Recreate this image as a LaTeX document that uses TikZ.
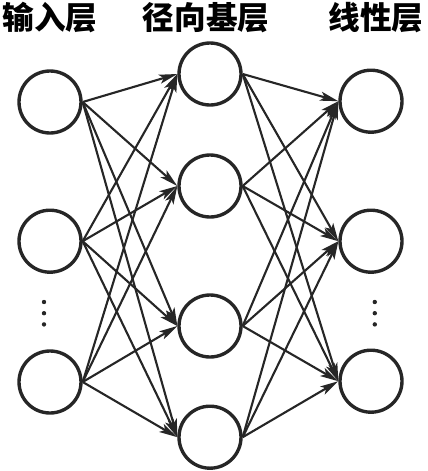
\documentclass[tikz,border=0pt]{standalone}
\usepackage{fontspec}
\newfontfamily\cjk{Noto Sans CJK SC}
\usetikzlibrary{arrows.meta}

\begin{document}
\begin{tikzpicture}[
	neuron/.style={circle, draw=black!85, line width=2.4pt, minimum size=1.55cm, inner sep=0pt},
	link/.style={draw=black!85, line width=1.5pt, -{Stealth[length=13pt, width=6.5pt, inset=3pt]}},
	title/.style={font={\cjk\bfseries\fontsize{22.5pt}{24pt}\selectfont}, inner sep=0pt}
	]
	\useasboundingbox (0,0) rectangle (10.675,-11.775);
	
	\def\xIn{1.25}
	\def\xHid{5.25}
	\def\xOut{9.275}
	\def\yT{-0.45}
	
	% layer titles
	\node[title] (TIn) at (1.25,\yT) {输入层};
	\node[title] (THid) at (5.15,\yT) {径向基层};
	\node[title] (TOut) at (9.4,\yT) {线性层};
	
	% input layer
	\node[neuron] (I1) at (\xIn,-2.55) {};
	\node[neuron] (I2) at (\xIn,-6.03) {};
	\node[neuron] (I3) at (\xIn,-9.55) {};
	
	% radial basis layer
	\node[neuron] (H1) at (\xHid,-1.85) {};
	\node[neuron] (H2) at (\xHid,-4.65) {};
	\node[neuron] (H3) at (\xHid,-8.15) {};
	\node[neuron] (H4) at (\xHid,-10.93) {};
	
	% linear layer
	\node[neuron] (O1) at (\xOut,-2.53) {};
	\node[neuron] (O2) at (\xOut,-6.03) {};
	\node[neuron] (O3) at (\xOut,-9.53) {};
	
	% dots
	\foreach \y in {-7.55,-7.83,-8.11}{
		\fill[black!85] (1.1,\y) circle (0.055);
		\fill[black!85] (9.37,\y) circle (0.055);
	}
	
	% connections
	\foreach \i in {1,2,3}
		\foreach \h in {1,...,4}
			\draw[link] (I\i.east) -- (H\h.west);
	\foreach \h in {1,...,4}
		\foreach \o in {1,2,3}
			\draw[link] (H\h.east) -- (O\o.west);
	
\end{tikzpicture}
\end{document}
